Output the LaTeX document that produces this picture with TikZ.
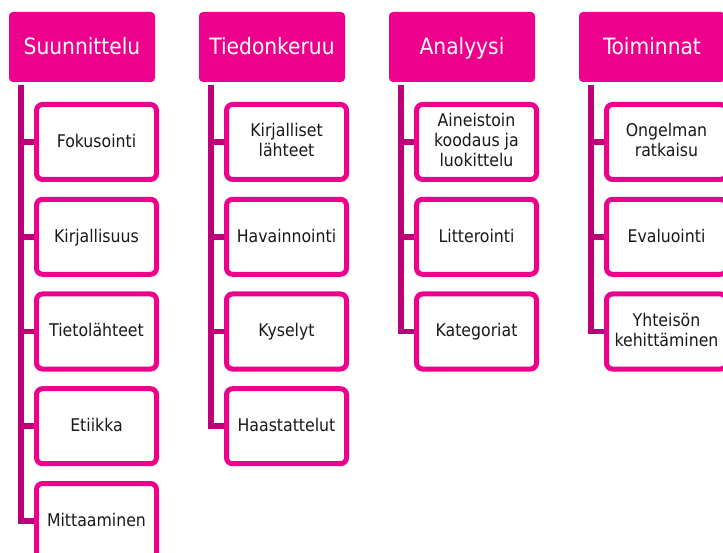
\documentclass[tikz,border=0pt]{standalone}
\usepackage{fontspec}
\setmainfont{DejaVu Sans Condensed}
\usetikzlibrary{backgrounds}
\definecolor{magentabox}{RGB}{236,0,140}
\definecolor{magentaline}{RGB}{190,0,120}
\definecolor{leaftext}{RGB}{25,25,25}
% invisible rule giving every leaf line the same height and depth
\newcommand\leafstrut{\rule[-4pt]{0pt}{19pt}}
\tikzset{
  headbox/.style={fill=magentabox, rounded corners=4pt, minimum width=146pt,
    minimum height=70pt, inner sep=0pt, text=white,
    font=\fontsize{22.5}{26}\selectfont, text height=17pt, text depth=1pt},
  leafbox/.style={draw=magentabox, fill=white, line width=5pt, rounded corners=6pt,
    minimum width=120pt, minimum height=75pt, inner sep=0pt, align=center,
    text=leaftext, font=\fontsize{17.5}{20}\selectfont,
    execute at begin node=\leafstrut, execute at end node=\leafstrut},
  conn/.style={draw=magentaline, line width=5.5pt}
}
\begin{document}
\begin{tikzpicture}[x=1pt, y=-1pt]
\useasboundingbox (0,0) rectangle (723,553);

% column headers
\node[headbox] (h1) at (82,47)  {Suunnittelu};
\node[headbox] (h2) at (272,47) {Tiedonkeruu};
\node[headbox] (h3) at (462,47) {Analyysi};
\node[headbox] (h4) at (652,47) {Toiminnat};

% trunk start points just below each header
\coordinate (t1) at (21,85);
\coordinate (t2) at (211,85);
\coordinate (t3) at (401,85);
\coordinate (t4) at (591,85);

% Suunnittelu
\node[leafbox] (a1) at (96.5,142)   {Fokusointi};
\node[leafbox] (a2) at (96.5,236.8) {Kirjallisuus};
\node[leafbox] (a3) at (96.5,331.5) {Tietolähteet};
\node[leafbox] (a4) at (96.5,426.2) {Etiikka};
\node[leafbox] (a5) at (96.5,521)   {Mittaaminen};

% Tiedonkeruu
\node[leafbox] (b1) at (286.5,142)   {Kirjalliset\\lähteet};
\node[leafbox] (b2) at (286.5,236.8) {Havainnointi};
\node[leafbox] (b3) at (286.5,331.5) {Kyselyt};
\node[leafbox] (b4) at (286.5,426.2) {Haastattelut};

% Analyysi
\node[leafbox] (c1) at (476.5,142)   {Aineistoin\\koodaus ja\\luokittelu};
\node[leafbox] (c2) at (476.5,236.8) {Litterointi};
\node[leafbox] (c3) at (476.5,331.5) {Kategoriat};

% Toiminnat
\node[leafbox] (d1) at (666.5,142)   {Ongelman\\ratkaisu};
\node[leafbox] (d2) at (666.5,236.8) {Evaluointi};
\node[leafbox] (d3) at (666.5,331.5) {Yhteisön\\kehittäminen};

% connectors behind the boxes: trunk down to the last child, branches to the others
\begin{pgfonlayer}{background}
\draw[conn] (t1) |- (a5.center);
\foreach \n in {a1,a2,a3,a4} \draw[conn] (t1 |- \n.west) -- (\n.center);
\draw[conn] (t2) |- (b4.center);
\foreach \n in {b1,b2,b3} \draw[conn] (t2 |- \n.west) -- (\n.center);
\draw[conn] (t3) |- (c3.center);
\foreach \n in {c1,c2} \draw[conn] (t3 |- \n.west) -- (\n.center);
\draw[conn] (t4) |- (d3.center);
\foreach \n in {d1,d2} \draw[conn] (t4 |- \n.west) -- (\n.center);
\end{pgfonlayer}
\end{tikzpicture}
\end{document}
